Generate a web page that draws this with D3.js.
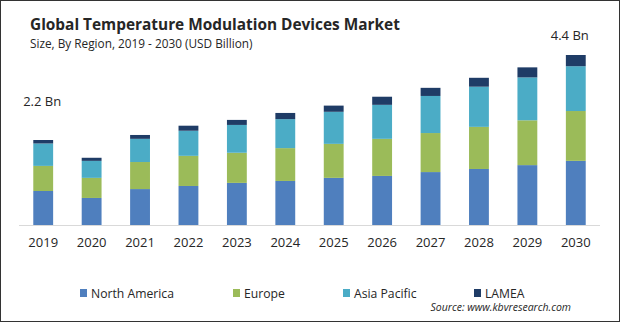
<!DOCTYPE html>
<html>
<head>
<meta charset="utf-8">
<script src="https://cdn.jsdelivr.net/npm/d3@7"></script>
<style>
  html, body { margin: 0; padding: 0; background: #fff; }
  svg { display: block; }
</style>
</head>
<body>
<svg id="chart" width="620" height="322"></svg>
<script>
// Market size by region, USD billion
const years = ["2019","2020","2021","2022","2023","2024","2025","2026","2027","2028","2029","2030"];
const northAmerica = [0.88, 0.70, 0.93, 1.01, 1.09, 1.14, 1.22, 1.27, 1.37, 1.45, 1.55, 1.66];
const europe       = [0.65, 0.52, 0.70, 0.78, 0.78, 0.85, 0.88, 0.96, 1.01, 1.09, 1.16, 1.29];
const asiaPacific  = [0.58, 0.44, 0.60, 0.65, 0.72, 0.75, 0.83, 0.88, 0.96, 1.04, 1.11, 1.16];
const lamea        = [0.09, 0.08, 0.10, 0.13, 0.13, 0.16, 0.16, 0.21, 0.21, 0.23, 0.26, 0.29];
const seriesNames  = ["North America", "Europe", "Asia Pacific", "LAMEA"];
const seriesColors = ["#4f7fbe", "#9bbb59", "#4bacc6", "#1f3c66"];
const labelYears   = ["2019", "2030"];
const labelTexts   = ["2.2 Bn", "4.4 Bn"];

const svg = d3.select("#chart");
const W = 620, H = 322;
const font = "'Open Sans', 'Noto Sans', sans-serif";

// outer frame
svg.append("rect").attr("x", 0.5).attr("y", 0.5).attr("width", W - 1).attr("height", H - 1)
  .attr("fill", "#fff").attr("stroke", "#333").attr("stroke-width", 1);

// title
svg.append("text").attr("x", 30).attr("y", 30)
  .attr("font-family", font).attr("font-weight", 700).attr("font-size", 15.4)
  .attr("fill", "#262626").text("Global Temperature Modulation Devices Market");
svg.append("text").attr("x", 30).attr("y", 48)
  .attr("font-family", font).attr("font-size", 11.8)
  .attr("fill", "#262626").text("Size, By Region, 2019 - 2030 (USD Billion)");

const x = d3.scaleBand().domain(years).range([19, 600]).paddingInner(0.59).paddingOuter(0.295);
const y = d3.scaleLinear().domain([0, 4.4]).range([225, 55]);

const rows = years.map((yr, i) => ({
  year: yr,
  "North America": northAmerica[i],
  "Europe": europe[i],
  "Asia Pacific": asiaPacific[i],
  "LAMEA": lamea[i]
}));
const stacked = d3.stack().keys(seriesNames)(rows);

svg.append("g").selectAll("g").data(stacked).join("g")
  .attr("fill", (d, i) => seriesColors[i])
  .selectAll("rect").data(d => d).join("rect")
  .attr("x", d => x(d.data.year))
  .attr("width", x.bandwidth())
  .attr("y", d => y(d[1]))
  .attr("height", d => y(d[0]) - y(d[1]));

// baseline axis
const axis = svg.append("g").attr("transform", `translate(0,${y(0)})`)
  .call(d3.axisBottom(x).tickSize(0).tickPadding(13));
axis.select(".domain").attr("stroke", "#d9d9d9").attr("d", "M19,0.5H600");
axis.selectAll("text").attr("font-family", font).attr("font-size", 13).attr("fill", "#262626");

// total labels for the first and last year
const totals = years.map((yr, i) => northAmerica[i] + europe[i] + asiaPacific[i] + lamea[i]);
const labelLift = [34, 15];
const labelShift = [-1, -6];
svg.append("g").selectAll("text").data(labelYears).join("text")
  .attr("x", (d, i) => x(d) + x.bandwidth() / 2 + labelShift[i])
  .attr("y", (d, i) => y(totals[years.indexOf(d)]) - labelLift[i])
  .attr("text-anchor", "middle")
  .attr("font-family", font).attr("font-size", 13).attr("fill", "#262626")
  .text((d, i) => labelTexts[i]);

// legend
const legendX = [80, 233, 343, 474];
const lg = svg.append("g").selectAll("g").data(seriesNames).join("g")
  .attr("transform", (d, i) => `translate(${legendX[i]},289)`);
lg.append("rect").attr("width", 7).attr("height", 8).attr("fill", (d, i) => seriesColors[i]);
lg.append("text").attr("x", 11).attr("y", 8.5)
  .attr("font-family", font).attr("font-size", 12.2).attr("fill", "#262626").text(d => d);

svg.append("text").attr("x", 571).attr("y", 311).attr("text-anchor", "end")
  .attr("font-family", font).attr("font-style", "italic").attr("font-size", 10.5)
  .attr("fill", "#262626").text("Source: www.kbvresearch.com");
</script>
</body>
</html>
